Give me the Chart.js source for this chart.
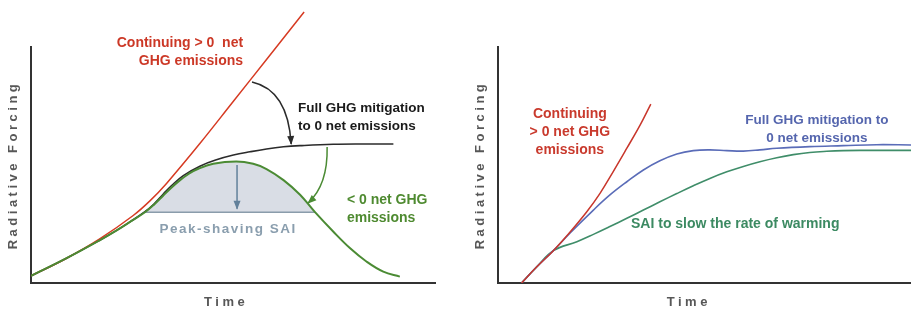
<!DOCTYPE html>
<html>
<head>
<meta charset="utf-8">
<script src="https://cdn.jsdelivr.net/npm/chart.js@4.4.1/dist/chart.umd.min.js"></script>
<style>
  html, body { margin: 0; padding: 0; background: #fff; }
  #wrap { position: relative; width: 911px; height: 309px; overflow: hidden; }
  #wrap canvas { position: absolute; top: 0; }
</style>
</head>
<body>
<div id="wrap">
  <canvas id="peakChart" width="460" height="309" style="left:0"></canvas>
  <canvas id="slowChart" width="451" height="309" style="left:460px"></canvas>
</div>
<script>
// values are in arbitrary units: time 0-100 along the axis, forcing 0-100 up the axis

// left panel - peak shaving
const peakRedX   = [0, 8.8, 17.1, 25.3, 29.5, 33.6, 41.8, 50.1, 58.3, 67.6];
const peakRedY   = [3.0, 10.5, 18.8, 28.6, 34.9, 42.3, 59.1, 77.0, 94.7, 114.8];
const peakBlackX = [0, 8.8, 17.1, 21.2, 24.5, 28.2, 30.5, 32.7, 34.8, 37.7, 41.8, 45.9, 50.1, 54.2, 58.3, 62.5, 66.6, 74.8, 83.1, 89.7];
const peakBlackY = [3.0, 10.5, 18.2, 22.3, 25.9, 30.2, 33.6, 37.6, 41.3, 45.5, 49.5, 52.2, 54.2, 55.6, 56.8, 57.7, 58.2, 58.8, 58.9, 58.9];
const peakGreenX = [0, 8.8, 17.1, 21.2, 24.5, 28.2, 30.5, 32.7, 34.8, 36.9, 39.0, 41.0, 45.1, 50.8, 55.0, 58.3, 62.5, 66.6, 70.3, 74.8, 79.0, 83.1, 87.2, 91.3];
const peakGreenY = [3.0, 10.5, 18.2, 22.3, 25.9, 30.0, 33.3, 37.0, 40.5, 43.6, 46.2, 48.1, 50.5, 51.5, 50.5, 48.3, 43.6, 37.4, 30.0, 21.8, 14.7, 9.0, 4.8, 2.7];
const peakBaseX  = [28.2, 70.3];
const peakBaseY  = [30.0, 30.0];

// right panel - slowing the rate of warming
const slowRedX   = [5.7, 9.4, 13.4, 17.4, 21.5, 24.7, 27.9, 31.2, 34.4, 37.0];
const slowRedY   = [0, 6.9, 13.7, 21.5, 30.2, 38.0, 47.2, 57.1, 66.9, 75.8];
const slowBlueX  = [5.7, 9.4, 13.4, 17.4, 23.1, 27.1, 31.2, 35.2, 39.2, 43.3, 47.3, 51.3, 55.4, 59.4, 63.4, 67.5, 75.5, 83.6, 91.7, 100];
const slowBlueY  = [0, 6.9, 13.7, 21.1, 30.9, 37.3, 42.9, 47.9, 51.8, 54.7, 56.1, 56.4, 56.1, 55.9, 56.4, 57.1, 57.8, 58.2, 58.6, 58.5];
const slowGreenX = [5.7, 9.4, 13.4, 19.1, 23.1, 27.1, 31.2, 35.2, 39.2, 43.3, 47.3, 51.3, 55.4, 59.4, 63.4, 67.5, 71.5, 75.5, 79.6, 83.6, 87.7, 100];
const slowGreenY = [0, 6.9, 13.7, 17.5, 20.6, 23.9, 27.4, 30.9, 34.4, 37.9, 41.2, 44.3, 47.1, 49.4, 51.4, 53.1, 54.4, 55.3, 55.8, 56.1, 56.2, 56.2];

const FONT = '"Liberation Sans", Arial, Helvetica, sans-serif';

function pts(xs, ys) {
  return xs.map((x, i) => ({ x: x, y: ys[i] }));
}

function curve(data, color, width, extra) {
  return Object.assign({
    data: data,
    borderColor: color,
    borderWidth: width,
    pointRadius: 0,
    fill: false,
    tension: 0.4
  }, extra || {});
}

// text + arrows, placed in data units through the chart's scales
const annotate = {
  id: 'annotate',
  afterDatasetsDraw(chart, args, opts) {
    const ctx = chart.ctx, sx = chart.scales.x, sy = chart.scales.y, area = chart.chartArea;
    const px = v => sx.getPixelForValue(v), py = v => sy.getPixelForValue(v);

    (opts.arrows || []).forEach(a => {
      const p0 = [px(a.from[0]), py(a.from[1])];
      const p1 = [px(a.to[0]), py(a.to[1])];
      const c = a.via ? [px(a.via[0]), py(a.via[1])] : p0;
      ctx.save();
      ctx.strokeStyle = a.color;
      ctx.fillStyle = a.color;
      ctx.lineWidth = a.width || 1.5;
      ctx.beginPath();
      ctx.moveTo(p0[0], p0[1]);
      if (a.via) ctx.quadraticCurveTo(c[0], c[1], p1[0], p1[1]);
      else ctx.lineTo(p1[0], p1[1]);
      ctx.stroke();
      const ang = Math.atan2(p1[1] - c[1], p1[0] - c[0]);
      const len = 8, half = 3.5;
      ctx.beginPath();
      ctx.moveTo(p1[0] + Math.cos(ang), p1[1] + Math.sin(ang));
      ctx.lineTo(p1[0] - Math.cos(ang) * len - Math.sin(ang) * half, p1[1] - Math.sin(ang) * len + Math.cos(ang) * half);
      ctx.lineTo(p1[0] - Math.cos(ang) * len + Math.sin(ang) * half, p1[1] - Math.sin(ang) * len - Math.cos(ang) * half);
      ctx.closePath();
      ctx.fill();
      ctx.restore();
    });

    (opts.notes || []).forEach(n => {
      ctx.save();
      ctx.font = 'bold ' + (n.size || 14) + 'px ' + FONT;
      ctx.fillStyle = n.color;
      ctx.textAlign = n.align || 'left';
      ctx.textBaseline = 'middle';
      ctx.letterSpacing = (n.spacing || 0) + 'px';
      n.text.forEach((line, i) => ctx.fillText(line, px(n.x), py(n.y) + i * 18));
      ctx.restore();
    });

    // axis titles
    const t = opts.titles;
    ctx.save();
    ctx.font = 'bold 13px ' + FONT;
    ctx.fillStyle = '#575757';
    ctx.textAlign = 'center';
    ctx.textBaseline = 'middle';
    ctx.letterSpacing = '3.5px';
    ctx.fillText('Time', px(t.timeX), area.bottom + 19);
    ctx.translate(area.left - t.forcingGap, (area.top + area.bottom) / 2);
    ctx.rotate(-Math.PI / 2);
    ctx.fillText('Radiative Forcing', 0, 0);
    ctx.restore();
  }
};

function axes(yWidth) {
  const common = {
    type: 'linear',
    min: 0,
    max: 100,
    grid: { display: false },
    ticks: { display: false },
    border: { display: true, color: '#333', width: 2 }
  };
  return {
    x: Object.assign({}, common, { afterFit: s => { s.height = 26; } }),
    y: Object.assign({}, common, { afterFit: s => { s.width = yWidth; } })
  };
}

function baseOptions(yWidth, rightPad, annot) {
  return {
    responsive: false,
    animation: false,
    events: [],
    layout: { padding: { top: 47, right: rightPad, left: 0, bottom: 0 } },
    scales: axes(yWidth),
    plugins: {
      legend: { display: false },
      tooltip: { enabled: false },
      annotate: annot
    }
  };
}

// the shaved part of the peak: green curve above the SAI base line
const shaved = pts(peakGreenX, peakGreenY).filter(p => p.x >= peakBaseX[0] && p.x <= peakBaseX[1]);

new Chart(document.getElementById('peakChart'), {
  type: 'line',
  plugins: [annotate],
  data: {
    datasets: [
      curve(pts(peakGreenX, peakGreenY), '#4b8b34', 2),
      curve(pts(peakRedX, peakRedY), '#d63a22', 1.5, { clip: false }),
      curve(pts(peakBlackX, peakBlackY), '#2b2b2b', 1.6),
      curve(pts(peakBaseX, peakBaseY), '#8a9cab', 1.6),
      curve(shaved, 'rgba(0,0,0,0)', 0, { fill: { value: peakBaseY[0] }, backgroundColor: '#d9dde5' })
    ]
  },
  options: baseOptions(31, 25, {
    titles: { timeX: 48.3, forcingGap: 18 },
    arrows: [
      { from: [54.7, 85.2], via: [63.6, 81.8], to: [64.4, 58.9], color: '#2b2b2b' },
      { from: [73.3, 57.6], via: [73.5, 41.5], to: [68.6, 33.9], color: '#4b8b34' },
      { from: [51.0, 50.0], to: [51.0, 31.5], color: '#62809a' }
    ],
    notes: [
      { text: ['Continuing > 0  net', 'GHG emissions'], x: 52.5, y: 101.7, align: 'right', color: '#cc3826' },
      { text: ['Full GHG mitigation', 'to 0 net emissions'], x: 66.1, y: 74.2, size: 13.5, color: '#1a1a1a' },
      { text: ['< 0 net GHG', 'emissions'], x: 78.2, y: 35.2, color: '#4e8a30' },
      { text: ['Peak-shaving SAI'], x: 48.8, y: 22.9, align: 'center', size: 13.5, spacing: 1.5, color: '#8a9eae' }
    ]
  })
});

new Chart(document.getElementById('slowChart'), {
  type: 'line',
  plugins: [annotate],
  data: {
    datasets: [
      curve(pts(slowRedX, slowRedY), '#c8362b', 1.5),
      curve(pts(slowBlueX, slowBlueY), '#5a6cb8', 1.6),
      curve(pts(slowGreenX, slowGreenY), '#3f8d69', 1.6)
    ]
  },
  options: baseOptions(38, 0, {
    titles: { timeX: 46.2, forcingGap: 18 },
    notes: [
      { text: ['Continuing', '> 0 net GHG', 'emissions'], x: 17.4, y: 71.6, align: 'center', color: '#c93a2d' },
      { text: ['Full GHG mitigation to', '0 net emissions'], x: 77.2, y: 69.1, align: 'center', size: 13.5, color: '#5566ae' },
      { text: ['SAI to slow the rate of warming'], x: 32.2, y: 25.0, color: '#3c8a62' }
    ]
  })
});
</script>
</body>
</html>
